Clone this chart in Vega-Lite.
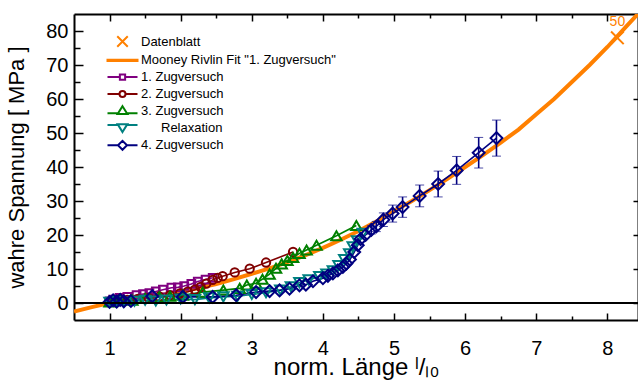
{
  "$schema": "https://vega.github.io/schema/vega-lite/v6.json",
  "width": 564,
  "height": 306,
  "autosize": {"type": "none"},
  "padding": {"left": 74, "top": 14, "right": 0, "bottom": 61},
  "background": "white",
  "config": {
    "view": {"stroke": null},
    "font": "Liberation Sans",
    "point": {"opacity": 1},
    "axis": {
      "domainColor": "black", "domainWidth": 2, "tickColor": "black", "tickWidth": 1.5,
      "grid": false, "labelFont": "Liberation Sans", "labelFontSize": 20, "labelColor": "black",
      "titleFont": "Liberation Sans", "titleFontSize": 22, "titleFontWeight": "normal", "titleColor": "black"
    }
  },
  "datasets": {
    "fit": [
      {"x": 0.5, "y": -2.5}, {"x": 0.75, "y": -1.2}, {"x": 1, "y": 0}, {"x": 1.25, "y": 0.8},
      {"x": 1.5, "y": 1.6}, {"x": 1.75, "y": 2.4}, {"x": 2, "y": 3.3}, {"x": 2.25, "y": 4.4},
      {"x": 2.5, "y": 5.6}, {"x": 2.75, "y": 7.0}, {"x": 3, "y": 8.6}, {"x": 3.25, "y": 10.2},
      {"x": 3.5, "y": 12.0}, {"x": 3.75, "y": 14.0}, {"x": 4, "y": 16.2}, {"x": 4.25, "y": 18.6},
      {"x": 4.5, "y": 21.2}, {"x": 4.75, "y": 24.0}, {"x": 5, "y": 27.0}, {"x": 5.25, "y": 30.0},
      {"x": 5.5, "y": 33.2}, {"x": 5.75, "y": 36.5}, {"x": 6, "y": 40.0}, {"x": 6.25, "y": 43.5},
      {"x": 6.5, "y": 47.2}, {"x": 6.75, "y": 51.0}, {"x": 7, "y": 55.5}, {"x": 7.25, "y": 60.0},
      {"x": 7.5, "y": 65.0}, {"x": 7.75, "y": 70.0}, {"x": 8, "y": 75.3}, {"x": 8.25, "y": 81.0},
      {"x": 8.45, "y": 85.5}
    ],
    "sheet": [{"s": "Datenblatt", "x": 8.14, "y": 78, "label": "50"}],
    "leg": [
      {"s": "Datenblatt"}, {"s": "Mooney Rivlin Fit \"1. Zugversuch\""}, {"s": "1. Zugversuch"},
      {"s": "2. Zugversuch"}, {"s": "3. Zugversuch"}, {"s": "\u2800\u2800Relaxation"}, {"s": "4. Zugversuch"}
    ],
    "exp": [
      {"s": "1. Zugversuch", "x": 1.0, "y": 0.5}, {"s": "1. Zugversuch", "x": 1.05, "y": 1.0},
      {"s": "1. Zugversuch", "x": 1.14, "y": 1.5}, {"s": "1. Zugversuch", "x": 1.25, "y": 1.8},
      {"s": "1. Zugversuch", "x": 1.38, "y": 2.3}, {"s": "1. Zugversuch", "x": 1.47, "y": 2.6},
      {"s": "1. Zugversuch", "x": 1.56, "y": 2.9}, {"s": "1. Zugversuch", "x": 1.65, "y": 3.4},
      {"s": "1. Zugversuch", "x": 1.75, "y": 3.9}, {"s": "1. Zugversuch", "x": 1.87, "y": 4.5},
      {"s": "1. Zugversuch", "x": 1.96, "y": 4.6}, {"s": "1. Zugversuch", "x": 2.05, "y": 5.0},
      {"s": "1. Zugversuch", "x": 2.15, "y": 5.6}, {"s": "1. Zugversuch", "x": 2.24, "y": 6.3},
      {"s": "1. Zugversuch", "x": 2.35, "y": 6.9}, {"s": "1. Zugversuch", "x": 2.45, "y": 7.4},

      {"s": "2. Zugversuch", "x": 1.0, "y": 0.3}, {"s": "2. Zugversuch", "x": 1.1, "y": 0.6},
      {"s": "2. Zugversuch", "x": 1.25, "y": 0.9}, {"s": "2. Zugversuch", "x": 1.4, "y": 1.2},
      {"s": "2. Zugversuch", "x": 1.55, "y": 1.5}, {"s": "2. Zugversuch", "x": 1.7, "y": 1.9},
      {"s": "2. Zugversuch", "x": 1.85, "y": 2.3}, {"s": "2. Zugversuch", "x": 1.99, "y": 2.8},
      {"s": "2. Zugversuch", "x": 2.1, "y": 3.3}, {"s": "2. Zugversuch", "x": 2.2, "y": 3.9},
      {"s": "2. Zugversuch", "x": 2.28, "y": 4.7}, {"s": "2. Zugversuch", "x": 2.36, "y": 5.7},
      {"s": "2. Zugversuch", "x": 2.45, "y": 6.8}, {"s": "2. Zugversuch", "x": 2.52, "y": 7.4},
      {"s": "2. Zugversuch", "x": 2.59, "y": 7.9}, {"s": "2. Zugversuch", "x": 2.76, "y": 9.0},
      {"s": "2. Zugversuch", "x": 2.97, "y": 10.1}, {"s": "2. Zugversuch", "x": 3.2, "y": 11.9},
      {"s": "2. Zugversuch", "x": 3.58, "y": 15.0},

      {"s": "3. Zugversuch", "x": 1.0, "y": 0.3}, {"s": "3. Zugversuch", "x": 1.14, "y": 1.0},
      {"s": "3. Zugversuch", "x": 1.32, "y": 0.8}, {"s": "3. Zugversuch", "x": 1.5, "y": 1.3},
      {"s": "3. Zugversuch", "x": 1.7, "y": 1.8}, {"s": "3. Zugversuch", "x": 1.85, "y": 2.0},
      {"s": "3. Zugversuch", "x": 2.03, "y": 2.3}, {"s": "3. Zugversuch", "x": 2.31, "y": 3.2},
      {"s": "3. Zugversuch", "x": 2.6, "y": 3.8}, {"s": "3. Zugversuch", "x": 2.83, "y": 4.3},
      {"s": "3. Zugversuch", "x": 2.93, "y": 5.3}, {"s": "3. Zugversuch", "x": 3.06, "y": 5.8},
      {"s": "3. Zugversuch", "x": 3.15, "y": 7.0}, {"s": "3. Zugversuch", "x": 3.25, "y": 8.5},
      {"s": "3. Zugversuch", "x": 3.34, "y": 10.2}, {"s": "3. Zugversuch", "x": 3.42, "y": 11.5},
      {"s": "3. Zugversuch", "x": 3.5, "y": 12.5}, {"s": "3. Zugversuch", "x": 3.58, "y": 13.4},
      {"s": "3. Zugversuch", "x": 3.67, "y": 14.6}, {"s": "3. Zugversuch", "x": 3.77, "y": 15.6},
      {"s": "3. Zugversuch", "x": 3.91, "y": 17.0}, {"s": "3. Zugversuch", "x": 4.19, "y": 19.8},
      {"s": "3. Zugversuch", "x": 4.47, "y": 22.8},

      {"s": "Relaxation", "x": 1.0, "y": 0.2}, {"s": "Relaxation", "x": 1.1, "y": 0.5},
      {"s": "Relaxation", "x": 1.2, "y": 0.3}, {"s": "Relaxation", "x": 1.35, "y": 0.5},
      {"s": "Relaxation", "x": 1.5, "y": 0.8}, {"s": "Relaxation", "x": 1.65, "y": 0.6},
      {"s": "Relaxation", "x": 1.8, "y": 0.9}, {"s": "Relaxation", "x": 2.0, "y": 1.2},
      {"s": "Relaxation", "x": 2.2, "y": 1.0}, {"s": "Relaxation", "x": 2.4, "y": 1.5},
      {"s": "Relaxation", "x": 2.6, "y": 1.8}, {"s": "Relaxation", "x": 2.8, "y": 2.0},
      {"s": "Relaxation", "x": 3.0, "y": 2.5}, {"s": "Relaxation", "x": 3.2, "y": 3.0},
      {"s": "Relaxation", "x": 3.4, "y": 3.8}, {"s": "Relaxation", "x": 3.55, "y": 4.8},
      {"s": "Relaxation", "x": 3.67, "y": 6.0}, {"s": "Relaxation", "x": 3.8, "y": 6.8},
      {"s": "Relaxation", "x": 3.95, "y": 7.8}, {"s": "Relaxation", "x": 4.05, "y": 8.5},
      {"s": "Relaxation", "x": 4.14, "y": 9.5}, {"s": "Relaxation", "x": 4.22, "y": 11.0},
      {"s": "Relaxation", "x": 4.3, "y": 12.8}, {"s": "Relaxation", "x": 4.37, "y": 14.5},
      {"s": "Relaxation", "x": 4.42, "y": 16.5}, {"s": "Relaxation", "x": 4.48, "y": 18.3},
      {"s": "Relaxation", "x": 4.56, "y": 20.5},

      {"s": "4. Zugversuch", "x": 1.0, "y": 0.3}, {"s": "4. Zugversuch", "x": 1.05, "y": 0.8},
      {"s": "4. Zugversuch", "x": 1.1, "y": 0.4}, {"s": "4. Zugversuch", "x": 1.15, "y": 0.9},
      {"s": "4. Zugversuch", "x": 1.2, "y": 0.5}, {"s": "4. Zugversuch", "x": 1.3, "y": 0.6},
      {"s": "4. Zugversuch", "x": 1.6, "y": 2.0}, {"s": "4. Zugversuch", "x": 2.03, "y": 1.8},
      {"s": "4. Zugversuch", "x": 2.45, "y": 1.8}, {"s": "4. Zugversuch", "x": 2.78, "y": 2.3},
      {"s": "4. Zugversuch", "x": 3.06, "y": 3.2}, {"s": "4. Zugversuch", "x": 3.25, "y": 3.5},
      {"s": "4. Zugversuch", "x": 3.39, "y": 3.7}, {"s": "4. Zugversuch", "x": 3.53, "y": 4.2},
      {"s": "4. Zugversuch", "x": 3.67, "y": 5.2}, {"s": "4. Zugversuch", "x": 3.76, "y": 5.4},
      {"s": "4. Zugversuch", "x": 3.86, "y": 6.4}, {"s": "4. Zugversuch", "x": 4.0, "y": 7.3},
      {"s": "4. Zugversuch", "x": 4.07, "y": 8.0}, {"s": "4. Zugversuch", "x": 4.14, "y": 8.7},
      {"s": "4. Zugversuch", "x": 4.21, "y": 9.6}, {"s": "4. Zugversuch", "x": 4.28, "y": 10.6},
      {"s": "4. Zugversuch", "x": 4.33, "y": 11.6}, {"s": "4. Zugversuch", "x": 4.38, "y": 12.8},
      {"s": "4. Zugversuch", "x": 4.44, "y": 15.0}, {"s": "4. Zugversuch", "x": 4.49, "y": 17.0},
      {"s": "4. Zugversuch", "x": 4.53, "y": 18.8}, {"s": "4. Zugversuch", "x": 4.6, "y": 20.0},
      {"s": "4. Zugversuch", "x": 4.68, "y": 21.5, "err": 1.2}, {"s": "4. Zugversuch", "x": 4.75, "y": 22.5, "err": 1.5},
      {"s": "4. Zugversuch", "x": 4.85, "y": 24.5, "err": 2.0}, {"s": "4. Zugversuch", "x": 4.98, "y": 26.3, "err": 2.5},
      {"s": "4. Zugversuch", "x": 5.12, "y": 28.2, "err": 3.0}, {"s": "4. Zugversuch", "x": 5.36, "y": 31.5, "err": 3.2},
      {"s": "4. Zugversuch", "x": 5.62, "y": 35.0, "err": 3.8}, {"s": "4. Zugversuch", "x": 5.88, "y": 39.0, "err": 4.1},
      {"s": "4. Zugversuch", "x": 6.19, "y": 44.2, "err": 4.5}, {"s": "4. Zugversuch", "x": 6.44, "y": 48.5, "err": 5.3}
    ]
  },
  "resolve": {"axis": {"x": "independent", "y": "independent"}},
  "layer": [
    {
      "data": {"name": "fit"},
      "mark": {"type": "line", "color": "#FF8000", "strokeWidth": 4, "clip": true},
      "encoding": {
        "x": {"field": "x", "type": "quantitative", "scale": {"domain": [0.5, 8.43], "nice": false, "zero": false},
          "axis": {"orient": "bottom", "values": [1, 1.5, 2, 2.5, 3, 3.5, 4, 4.5, 5, 5.5, 6, 6.5, 7, 7.5, 8],
            "labelExpr": "datum.value % 1 === 0 ? format(datum.value, 'd') : ''",
            "tickSize": {"condition": {"test": "datum.value % 1 !== 0", "value": -4}, "value": -7},
            "labelPadding": 25, "title": "norm. Länge ˡ/ₗ₀", "titleFontSize": 24, "titlePadding": -3}},
        "y": {"field": "y", "type": "quantitative", "scale": {"domain": [-5, 85], "nice": false, "zero": false},
          "axis": {"orient": "left", "values": [0, 5, 10, 15, 20, 25, 30, 35, 40, 45, 50, 55, 60, 65, 70, 75, 80],
            "labelExpr": "datum.value % 10 === 0 ? datum.label : ''",
            "tickSize": {"condition": {"test": "datum.value % 10 !== 0", "value": -6}, "value": -9},
            "labelPadding": 15, "title": "wahre Spannung [ MPa ]", "titlePadding": 17}}
      }
    },
    {
      "data": {"name": "sheet"},
      "mark": {"type": "point", "shape": "M-1,-1L1,1M-1,1L1,-1", "size": 160, "color": "#FF8000", "strokeWidth": 2, "filled": false, "opacity": 1},
      "encoding": {
        "x": {"field": "x", "type": "quantitative", "scale": {"domain": [0.5, 8.43], "nice": false, "zero": false},
          "axis": {"orient": "top", "values": [1, 1.5, 2, 2.5, 3, 3.5, 4, 4.5, 5, 5.5, 6, 6.5, 7, 7.5, 8], "labels": false, "title": null,
            "tickSize": {"condition": {"test": "datum.value % 1 !== 0", "value": -4}, "value": -7}}},
        "y": {"field": "y", "type": "quantitative", "scale": {"domain": [-5, 85], "nice": false, "zero": false},
          "axis": {"orient": "right", "values": [0, 10, 20, 30, 40, 50, 60, 70, 80], "labels": false, "title": null, "tickSize": -5}}
      }
    },
    {
      "data": {"name": "sheet"},
      "mark": {"type": "text", "color": "#FF8000", "fontSize": 14, "dy": -16, "font": "Liberation Sans"},
      "encoding": {
        "x": {"field": "x", "type": "quantitative", "axis": null},
        "y": {"field": "y", "type": "quantitative", "axis": null},
        "text": {"field": "label"}
      }
    },
    {
      "data": {"name": "exp"},
      "mark": {"type": "line", "strokeWidth": 1.6, "clip": true},
      "encoding": {
        "x": {"field": "x", "type": "quantitative", "axis": null},
        "y": {"field": "y", "type": "quantitative", "axis": null},
        "stroke": {"field": "s", "type": "nominal", "legend": null,
          "scale": {"domain": ["1. Zugversuch", "2. Zugversuch", "3. Zugversuch", "Relaxation", "4. Zugversuch"],
            "range": ["#800080", "#800000", "#008000", "#008080", "#000080"]}}
      }
    },
    {
      "data": {"name": "exp"},
      "transform": [{"filter": "datum.s === '1. Zugversuch'"}],
      "mark": {"type": "point", "shape": "square", "size": 60, "filled": false, "strokeWidth": 2, "color": "#800080", "opacity": 1},
      "encoding": {"x": {"field": "x", "type": "quantitative", "axis": null}, "y": {"field": "y", "type": "quantitative", "axis": null}}
    },
    {
      "data": {"name": "exp"},
      "transform": [{"filter": "datum.s === '2. Zugversuch'"}],
      "mark": {"type": "point", "shape": "circle", "size": 70, "filled": false, "strokeWidth": 2, "color": "#800000", "opacity": 1},
      "encoding": {"x": {"field": "x", "type": "quantitative", "axis": null}, "y": {"field": "y", "type": "quantitative", "axis": null}}
    },
    {
      "data": {"name": "exp"},
      "transform": [{"filter": "datum.s === '3. Zugversuch'"}],
      "mark": {"type": "point", "shape": "triangle-up", "size": 110, "filled": false, "strokeWidth": 2, "color": "#008000", "opacity": 1},
      "encoding": {"x": {"field": "x", "type": "quantitative", "axis": null}, "y": {"field": "y", "type": "quantitative", "axis": null}}
    },
    {
      "data": {"name": "exp"},
      "transform": [{"filter": "datum.s === 'Relaxation'"}],
      "mark": {"type": "point", "shape": "triangle-down", "size": 110, "filled": false, "strokeWidth": 2, "color": "#008080", "opacity": 1},
      "encoding": {"x": {"field": "x", "type": "quantitative", "axis": null}, "y": {"field": "y", "type": "quantitative", "axis": null}}
    },
    {
      "data": {"name": "exp"},
      "transform": [{"filter": "datum.s === '4. Zugversuch' && isValid(datum.err)"}],
      "mark": {"type": "errorbar", "color": "#000080", "ticks": {"size": 9, "strokeWidth": 1.6}, "rule": {"strokeWidth": 1.6}},
      "encoding": {"x": {"field": "x", "type": "quantitative", "axis": null}, "y": {"field": "y", "type": "quantitative", "axis": null}, "yError": {"field": "err"}}
    },
    {
      "data": {"name": "exp"},
      "transform": [{"filter": "datum.s === '4. Zugversuch'"}],
      "mark": {"type": "point", "shape": "diamond", "size": 140, "filled": false, "strokeWidth": 2, "color": "#000080", "opacity": 1},
      "encoding": {"x": {"field": "x", "type": "quantitative", "axis": null}, "y": {"field": "y", "type": "quantitative", "axis": null}}
    },
    {
      "data": {"values": [{}]},
      "mark": {"type": "rule", "color": "black", "strokeWidth": 2},
      "encoding": {"y": {"datum": 0, "type": "quantitative", "axis": null}}
    },
    {
      "data": {"name": "leg"},
      "mark": {"type": "point", "filled": false, "clip": true, "opacity": 1},
      "encoding": {
        "x": {"datum": 100, "type": "quantitative", "axis": null},
        "y": {"datum": 100, "type": "quantitative", "axis": null},
        "color": {"field": "s", "type": "nominal",
          "scale": {"domain": ["Datenblatt", "Mooney Rivlin Fit \"1. Zugversuch\"", "1. Zugversuch", "2. Zugversuch", "3. Zugversuch", "\u2800\u2800Relaxation", "4. Zugversuch"],
            "range": ["#FF8000", "#FF8000", "#800080", "#800000", "#008000", "#008080", "#000080"]},
          "legend": {"title": null, "orient": "none", "legendX": 40, "legendY": 19, "padding": 0,
            "symbolSize": 225, "symbolStrokeWidth": 2, "symbolOpacity": 1, "labelFontSize": 13, "labelFont": "Liberation Sans", "labelColor": "black",
            "labelOffset": 10, "rowPadding": 0.8, "labelLimit": 400}},
        "shape": {"field": "s", "type": "nominal",
          "scale": {"domain": ["Datenblatt", "Mooney Rivlin Fit \"1. Zugversuch\"", "1. Zugversuch", "2. Zugversuch", "3. Zugversuch", "\u2800\u2800Relaxation", "4. Zugversuch"],
            "range": [
              "M-0.7,-0.7L0.7,0.7M-0.7,0.7L0.7,-0.7",
              "M-2,-0.08H2V0.08H-2Z",
              "M-2,0H-0.35M0.35,0H2M-0.35,-0.35H0.35V0.35H-0.35Z",
              "M-2,0H-0.4M0.4,0H2M-0.4,0A0.4,0.4,0,1,0,0.4,0A0.4,0.4,0,1,0,-0.4,0Z",
              "M-2,0.35H-0.6M0.6,0.35H2M0,-0.6L0.65,0.45H-0.65Z",
              "M-2,-0.35H-0.6M0.6,-0.35H2M0,0.6L0.65,-0.45H-0.65Z",
              "M-2,0H-0.6M0.6,0H2M-0.6,0L0,-0.6L0.6,0L0,0.6Z"
            ]},
          "legend": {"title": null, "orient": "none", "legendX": 40, "legendY": 19, "padding": 0,
            "symbolSize": 225, "symbolStrokeWidth": 2, "symbolOpacity": 1, "labelFontSize": 13, "labelFont": "Liberation Sans", "labelColor": "black",
            "labelOffset": 10, "rowPadding": 0.8, "labelLimit": 400}}
      }
    }
  ]
}
